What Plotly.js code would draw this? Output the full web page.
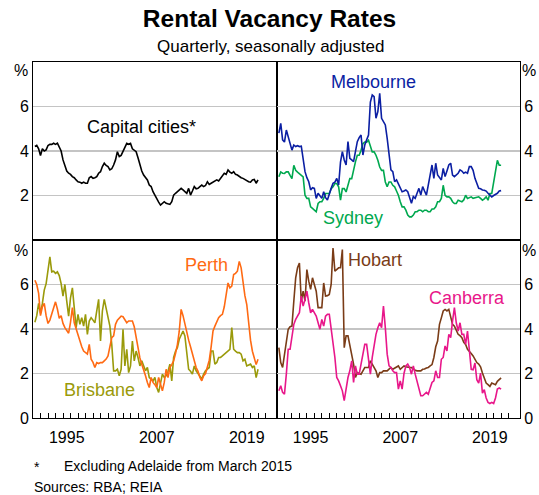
<!DOCTYPE html>
<html><head><meta charset="utf-8">
<script src="https://cdn.plot.ly/plotly-3.0.1.min.js"></script>
<style>html,body{margin:0;padding:0;background:#fff}#chart{width:539px;height:495px}</style>
</head><body><div id="chart"></div>
<script>
// Quarterly observations, first quarter 1991.25, step 0.25 year
const firstQuarter = 1991.25;
const quarterStep = 0.25;

const capitalCities = [4.2, 4.25, 4.1,
3.8, 4.1, 4.0, 4.05,  4.25, 4.3, 4.3, 4.35,  4.3, 4.35, 4.2, 4.0,  3.6, 3.35, 3.1, 3.0,
2.95, 2.85, 2.8, 2.7,  2.62, 2.6, 2.55, 2.6,  2.55, 2.55, 2.8, 2.85,  2.77, 2.8, 2.85, 3.0,
3.07, 3.3, 3.45, 3.35,  3.3, 3.15, 3.2, 3.37,  3.6, 3.97, 3.75, 3.8,  3.97, 4.1, 4.34, 4.3,
4.34, 4.1, 4.04, 3.97,  3.7, 3.37, 3.1, 2.92,  2.8, 2.7, 2.47, 2.4,  2.17, 2.0, 1.87, 1.7,
1.57, 1.65, 1.72, 1.65,  1.62, 1.6, 1.72, 2.02,  2.1, 2.17, 2.25, 2.32,  2.25, 2.17, 2.1, 2.32,
2.02, 2.2, 2.4, 2.3,  2.32, 2.4, 2.47, 2.4,  2.45, 2.62, 2.5, 2.55,  2.6, 2.62, 2.7, 2.65,
2.75, 2.85, 3.0, 2.95,  3.15, 3.05, 3.0, 3.07,  2.95, 2.92, 2.85, 2.8,  2.77, 2.72, 2.65, 2.62,
2.6, 2.7, 2.72, 2.55,
2.7];

const melbourne = [4.8, 5.24, 4.5,
4.4, 4.94, 4.6, 4.3,  4.04, 4.27, 4.2, 4.24,  4.2, 4.22, 3.67, 3.07,  2.8, 2.62, 2.25, 2.35,
2.32, 1.87, 2.1, 2.0,  1.87, 2.17, 1.9, 1.8,  2.1, 2.32, 2.55, 2.6,  2.77, 2.47, 3.5, 3.97,
3.6, 3.37, 4.42, 3.67,  3.6, 3.52, 3.97, 4.42,  4.6, 4.72, 3.82, 4.27,  4.5, 4.72, 6.2, 6.52,
6.44, 5.47, 5.77, 6.59,  5.47, 5.32, 5.17, 4.57,  3.82, 3.15, 3.07, 2.62,  2.7, 2.5, 2.32, 2.17,
2.2, 2.25, 2.17, 1.87,  1.65, 1.95, 1.87, 2.1,  2.32, 2.02, 2.4, 2.2,  2.02, 2.47, 2.9, 3.37,
2.77, 3.45, 2.92, 2.8,  2.7, 3.22, 2.85, 3.1,  3.37, 3.45, 2.92, 2.85,  2.92, 3.0, 3.15, 3.1,
3.0, 3.05, 3.0, 3.3,  3.3, 3.13, 2.77, 2.5,  2.32, 2.3, 2.25, 2.24,  2.2, 2.1, 2.0, 1.94,
2.0, 2.05, 2.1, 2.2,
2.22];

const sydney = [2.84, 3.06, 3.0,
2.99, 3.06, 3.06, 2.9,  2.76, 3.36, 3.13, 3.05,  2.99, 2.91, 2.84, 2.01,  1.87, 1.87, 1.49, 1.42,
1.35, 1.27, 1.64, 1.72,  1.72, 1.87, 2.09, 2.09,  2.09, 2.31, 2.39, 2.54,  2.54, 2.39, 1.79, 2.31,
2.31, 2.16, 2.46, 2.76,  2.76, 3.21, 3.51, 3.81,  3.81, 4.03, 4.33, 4.4,  4.4, 4.48, 4.25, 3.96,
3.96, 3.81, 3.58, 3.28,  3.13, 3.13, 2.61, 2.39,  2.61, 2.61, 2.46, 2.39,  2.2, 2.01, 1.72, 1.49,
1.49, 1.34, 1.12, 1.04,  1.04, 1.12, 1.27, 1.27,  1.34, 1.34, 1.27, 1.34,  1.34, 1.27, 1.27, 1.39,
1.39, 1.49, 1.72, 1.72,  1.87, 2.46, 2.01, 1.94,  1.94, 1.87, 1.72, 1.64,  1.64, 1.79, 1.75, 1.72,
1.8, 2.01, 1.87, 1.9,  1.94, 1.87, 1.9, 1.94,  1.94, 1.87, 1.79, 1.85,  1.94, 1.79, 2.09, 2.09,
2.54, 3.13, 3.58, 3.36,
3.36];

const perth = [6.19, 6.0, 5.6,
4.6, 5.0, 5.15, 4.6,  4.25, 4.4, 4.7, 5.0,  5.22, 4.9, 4.48, 4.6,  4.25, 4.06, 3.96, 3.81,
4.3, 4.96, 4.28, 4.0,  3.76, 3.5, 3.2, 3.01,  2.95, 2.87, 3.31, 2.64,  2.5, 2.27, 2.49, 2.45,
2.49, 2.49, 2.57, 2.65,  2.79, 3.16, 3.61, 3.69,  4.21, 4.4, 4.51, 4.58,  4.55, 4.43, 4.28, 4.36,
4.36, 4.36, 4.1, 3.61,  3.01, 2.7, 2.42, 2.2,  1.9, 1.6, 1.37, 1.82,  1.6, 1.5, 1.37, 1.82,
1.5, 1.22, 1.6, 2.19,  1.82, 2.27, 2.4, 2.57,  2.9, 3.3, 3.9, 4.88,  4.6, 4.2, 3.91, 3.5,
3.2, 2.9, 2.6, 2.27,  2.1, 1.82, 1.67, 1.9,  2.0, 2.27, 2.6, 3.2,  3.91, 4.13, 4.3, 4.51,
4.6, 4.66, 5.0, 5.5,  6.07, 5.85, 5.93, 6.45,  6.5, 6.6, 7.04, 6.75,  6.0, 5.5, 5.1, 4.2,
3.5, 3.0, 2.72, 2.4,
2.64];

const brisbane = [4.3, 4.6, 5.15,
4.7, 5.15, 5.75, 6.04,  6.6, 7.24, 6.57, 6.6,  6.5, 6.57, 6.4, 6.04,  5.48, 6.0, 5.25, 4.58,
5.4, 5.85, 4.96, 4.06,  4.66, 4.21, 4.51, 4.13,  4.66, 3.76, 4.36, 4.51,  4.4, 4.28, 4.81, 5.33,
3.46, 4.81, 5.33, 4.88,  4.5, 4.13, 3.31, 2.12,  2.12, 2.19, 1.9, 2.19,  3.99, 2.34, 3.09, 2.04,
2.34, 3.46, 2.57, 3.01,  2.72, 2.34, 2.57, 2.3,  2.12, 2.27, 1.82, 1.75,  1.67, 1.82, 1.37, 1.15,
1.6, 1.97, 1.82, 1.9,  2.1, 2.42, 1.67, 2.72,  3.0, 3.16, 3.54, 3.7,  3.91, 3.69, 3.01, 2.19,
2.1, 1.97, 2.34, 2.12,  2.0, 1.9, 1.75, 1.97,  2.12, 2.2, 2.27, 3.01,  3.01, 2.42, 2.49, 2.72,
2.72, 2.79, 2.87, 2.95,  3.01, 3.09, 4.06, 3.09,  3.01, 2.94, 2.94, 2.87,  2.57, 2.64, 2.34, 2.4,
2.42, 2.27, 2.34, 1.82,
2.19];

const hobart = [3.16, 2.49, 2.27,
2.79, 3.46, 3.99, 4.1,  4.13, 5.25, 6.3, 6.75,  6.97, 5.25, 5.7, 5.25,  6.67, 6.15, 5.78, 6.3,
6.0, 5.7, 4.96, 4.96,  4.96, 6.07, 5.48, 5.5,  5.55, 6.0, 7.64, 6.6,  6.67, 6.75, 6.75, 7.57,
3.16, 3.69, 3.69, 3.31,  2.79, 2.42, 1.82, 2.04,  2.0, 1.97, 2.12, 2.27,  2.27, 2.27, 2.57, 2.42,
2.3, 2.12, 1.82, 2.04,  2.04, 2.12, 2.12, 2.12,  2.2, 2.27, 2.19, 2.25,  2.3, 2.34, 2.19, 2.25,
2.34, 2.3, 2.27, 2.27,  2.27, 2.19, 2.15, 2.12,  2.12, 2.12, 2.19, 2.2,  2.25, 2.27, 2.34, 2.4,
2.72, 3.2, 3.46, 4.21,  4.5, 4.81, 4.88, 4.81,  4.88, 4.5, 4.21, 4.13,  3.91, 3.76, 3.7, 3.61,
3.4, 3.31, 3.09, 3.01,  2.9, 2.79, 2.6, 2.49,  2.42, 2.3, 2.02, 1.8,  1.57, 1.5, 1.42, 1.57,
1.55, 1.5, 1.65, 1.72,
1.8];

const canberra = [1.22, 1.45, 1.15,
1.07, 1.97, 3.09, 3.09,  3.76, 4.21, 4.43, 4.6,  4.73, 5.48, 5.03, 5.33,  5.7, 5.18, 4.73, 4.88,
4.7, 4.58, 4.28, 3.99,  4.43, 4.13, 4.58, 4.66,  4.66, 4.06, 3.31, 2.72,  1.82, 1.67, 1.45, 1.22,
0.78, 1.37, 1.82, 2.12,  2.57, 1.6, 2.34, 1.97,  1.97, 2.42, 2.87, 3.31,  3.31, 2.49, 1.97, 2.72,
3.3, 3.76, 4.06, 4.28,  4.06, 5.03, 4.06, 2.87,  2.34, 2.27, 2.12, 2.04,  2.04, 1.3, 1.67, 1.3,
2.0, 2.34, 2.42, 2.27,  1.97, 2.34, 1.97, 1.6,  1.37, 1.0, 1.0, 1.07,  1.15, 1.07, 1.3, 1.6,
1.67, 2.12, 1.82, 1.82,  2.64, 2.72, 3.24, 3.01,  3.76, 3.61, 4.36, 4.96,  4.28, 3.91, 4.28, 3.76,
3.76, 3.31, 3.91, 2.87,  2.19, 2.17, 2.47, 1.72,  1.57, 2.02, 1.12, 1.27,  0.9, 0.7, 0.65, 0.7,
0.65, 0.9, 1.3, 1.35,
1.3];

const yearLabels = ['1995', '2007', '2019'];
const yearLabelPos = [1995.5, 2007.5, 2019.5];

const quarters = capitalCities.map((_, i) => firstQuarter + quarterStep * i);

const W = 539, H = 495;
const px = v => v / W;
const py = v => 1 - v / H;
const FONT = 'Liberation Sans, Arial, Helvetica, sans-serif';

const colors = {
  capital: '#000000', melbourne: '#0b1fa3', sydney: '#00a84f',
  perth: '#ff6a13', brisbane: '#9a9a0a', hobart: '#7a3c17', canberra: '#e8178a'
};

function line(y, name, color, xa, ya) {
  return {x: quarters, y: y, name: name, type: 'scatter', mode: 'lines',
    line: {color: color, width: 1.6}, xaxis: xa, yaxis: ya, hoverinfo: 'skip'};
}

const data = [
  line(capitalCities, 'Capital cities', colors.capital, 'x', 'y'),
  line(sydney, 'Sydney', colors.sydney, 'x2', 'y2'),
  line(melbourne, 'Melbourne', colors.melbourne, 'x2', 'y2'),
  line(brisbane, 'Brisbane', colors.brisbane, 'x3', 'y3'),
  line(perth, 'Perth', colors.perth, 'x3', 'y3'),
  line(hobart, 'Hobart', colors.hobart, 'x4', 'y4'),
  line(canberra, 'Canberra', colors.canberra, 'x4', 'y4')
];

const minorTicks = [];
for (let yr = 1992; yr <= 2022; yr++) minorTicks.push(yr);

const xRange = [1991, 2023.53];
function xaxis(domain, anchor, bottom) {
  const a = {domain: domain, anchor: anchor, range: xRange, showgrid: false, zeroline: false,
    showline: true, mirror: true, linecolor: '#000', linewidth: 1, fixedrange: true};
  if (bottom) {
    a.tickmode = 'array'; a.tickvals = yearLabelPos; a.ticktext = yearLabels; a.ticks = '';
    a.tickfont = {family: FONT, size: 16, color: '#000'};
    a.ticklabelstandoff = 5;
    a.minor = {tickmode: 'array', tickvals: minorTicks, ticks: 'inside', ticklen: 5,
      tickwidth: 1, tickcolor: '#000', showgrid: false};
  } else {
    a.showticklabels = false; a.ticks = '';
  }
  return a;
}
function yaxis(domain, anchor, side, bottom) {
  return {domain: domain, anchor: anchor, side: side, range: [0, 8], zeroline: false,
    tickmode: 'array', tickvals: bottom ? [0, 2, 4, 6] : [2, 4, 6],
    ticktext: bottom ? ['0', '2', '4', '6'] : ['2', '4', '6'],
    ticks: '', showgrid: true, gridcolor: '#c4c4c4', gridwidth: 1.5,
    showline: true, mirror: true, linecolor: '#000', linewidth: 1,
    tickfont: {family: FONT, size: 16, color: '#000'}, fixedrange: true};
}

const xL = [px(33), px(277)], xR = [px(277), px(520)];
const yT = [py(240), py(62)], yB = [py(418), py(240)];

function ann(text, x, y, color, size, anchor) {
  return {text: text, xref: 'paper', yref: 'paper', x: px(x), y: py(y),
    xanchor: anchor || 'center', yanchor: 'middle', showarrow: false,
    font: {family: FONT, size: size, color: color}};
}

const annotations = [
  ann('Quarterly, seasonally adjusted', 270, 46, '#000', 17),
  ann('%', 21, 70, '#000', 16), ann('%', 21, 250, '#000', 16),
  ann('%', 529, 70, '#000', 16), ann('%', 529, 250, '#000', 16),
  ann('Capital cities*', 141, 127, colors.capital, 18),
  ann('Melbourne', 373, 82, colors.melbourne, 18),
  ann('Sydney', 353, 218, colors.sydney, 18),
  ann('Perth', 206, 265, colors.perth, 18),
  ann('Brisbane', 99, 390, colors.brisbane, 18),
  ann('Hobart', 375, 260, colors.hobart, 18),
  ann('Canberra', 467, 298, colors.canberra, 18),
  ann('*', 32, 467, '#000', 14, 'left'),
  ann('Excluding Adelaide from March 2015', 62, 466, '#000', 14, 'left'),
  ann('Sources: RBA; REIA', 32, 487, '#000', 14, 'left')
];

const layout = {
  width: W, height: H, margin: {l: 0, r: 0, t: 0, b: 0},
  paper_bgcolor: '#fff', plot_bgcolor: '#fff', showlegend: false,
  title: {text: '<b>Rental Vacancy Rates</b>', x: 0.5, xanchor: 'center', y: py(18), yanchor: 'middle',
    font: {family: FONT, size: 24.5, color: '#000'}},
  xaxis: xaxis(xL, 'y', false), yaxis: yaxis(yT, 'x', 'left', false),
  xaxis2: xaxis(xR, 'y2', false), yaxis2: yaxis(yT, 'x2', 'right', false),
  xaxis3: xaxis(xL, 'y3', true), yaxis3: yaxis(yB, 'x3', 'left', true),
  xaxis4: xaxis(xR, 'y4', true), yaxis4: yaxis(yB, 'x4', 'right', true),
  annotations: annotations
};

Plotly.newPlot('chart', data, layout, {staticPlot: true, displayModeBar: false});
</script></body></html>
